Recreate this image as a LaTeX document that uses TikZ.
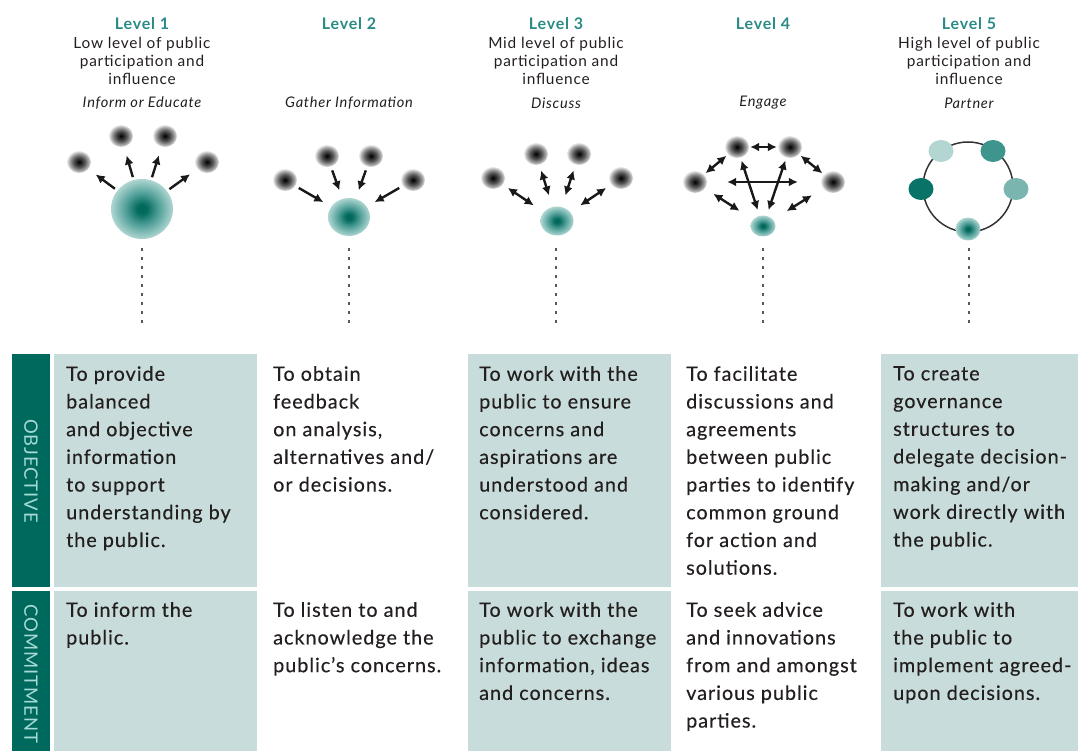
\documentclass[tikz,border=0pt]{standalone}
\usepackage{fontspec}
\setmainfont{Lato}[LetterSpace=5]
\newfontfamily\bodyfont{Lato}[LetterSpace=5, FakeBold=0.35]
\usetikzlibrary{arrows.meta,shapes.geometric}

\definecolor{barteal}{HTML}{00695E}
\definecolor{cellteal}{HTML}{C8DDDB}
\definecolor{headteal}{HTML}{2A8B86}
\definecolor{bartext}{HTML}{A6DAD5}
\definecolor{ink}{HTML}{241F1F}
\definecolor{tealA}{HTML}{00675A}
\definecolor{tealB}{HTML}{2E8B83}
\definecolor{tealC}{HTML}{AFD6D2}
\definecolor{pOne}{HTML}{B3D6D3}
\definecolor{pTwo}{HTML}{3D958E}
\definecolor{pThree}{HTML}{7AB5B0}
\definecolor{pFour}{HTML}{0A7368}

% radial shadings: the node outline sits at about 25bp
\pgfdeclareradialshading{grayblob}{\pgfpointorigin}{color(0bp)=(black); color(3bp)=(black!92); color(12bp)=(black!66); color(20bp)=(black!34); color(25bp)=(black!8); color(50bp)=(white)}
\pgfdeclareradialshading{tealglow}{\pgfpointorigin}{color(0bp)=(tealA); color(4bp)=(tealA!90!tealB); color(13bp)=(tealB!75!tealC); color(25bp)=(tealC); color(50bp)=(tealC)}

\tikzset{
  gblob/.style={ellipse, shading=grayblob, minimum width=24pt, minimum height=22pt, inner sep=0},
  tblob/.style={ellipse, shading=tealglow, inner sep=0},
  pblob/.style={ellipse, fill=#1, minimum width=25pt, minimum height=22pt, inner sep=0},
  arr/.style={line width=2.4pt, draw=black!90, -{Latex[length=9pt,width=9pt]}},
  darr/.style={line width=2.4pt, draw=black!90, {Latex[length=9pt,width=9pt]}-{Latex[length=9pt,width=9pt]}},
  dots/.style={line width=2.6pt, draw=black!65, dash pattern=on 2.6pt off 6.4pt},
  lvl/.style={font=\fontsize{16}{18}\selectfont\bfseries, text=headteal, inner sep=0},
  sub/.style={font=\fontsize{15.4}{18}\selectfont, text=ink, align=center, inner sep=0},
  modetxt/.style={font=\fontsize{14.6}{18}\selectfont\itshape, text=ink, inner sep=0},
  body/.style={font=\bodyfont\fontsize{19.8}{27.7}\selectfont, text=ink, align=left, anchor=north west, inner sep=0},
  bartxt/.style={font=\fontsize{18.5}{20}\selectfont, text=bartext, rotate=-90, inner sep=0}
}

\begin{document}
\begin{tikzpicture}[x=1pt, y=-1pt]
\useasboundingbox (0,0) rectangle (1078,751);

% ---------- level headings ----------
\node[lvl] (h1) at (142,24) {Level 1};
\node[sub] (s1) at (142,61) {Low level of public\\participation and\\influence};
\node[modetxt] (m1) at (142,103) {Inform or Educate};

\node[lvl] (h2) at (349,24) {Level 2};
\node[modetxt] (m2) at (349,103) {Gather Information};

\node[lvl] (h3) at (556,24) {Level 3};
\node[sub] (s3) at (556,61) {Mid level of public\\participation and\\influence};
\node[modetxt] (m3) at (556,103) {Discuss};

\node[lvl] (h4) at (763,24) {Level 4};
\node[modetxt] (m4) at (763,103) {Engage};

\node[lvl] (h5) at (969,24) {Level 5};
\node[sub] (s5) at (969,61) {High level of public\\participation and\\influence};
\node[modetxt] (m5) at (969,103) {Partner};

% ---------- level 1: inform ----------
\node[tblob, minimum width=62pt, minimum height=60pt] (c1) at (142,209) {};
\node[gblob] (a11) at (79,162) {};
\node[gblob] (a12) at (121,136) {};
\node[gblob] (a13) at (165,136) {};
\node[gblob] (a14) at (207,162) {};
\foreach \b in {a11,a12,a13,a14}
  \draw[arr, shorten <=3pt, shorten >=9pt] (c1) -- (\b);

% ---------- level 2: gather ----------
\node[tblob, minimum width=42pt, minimum height=38pt] (c2) at (349,217) {};
\node[gblob] (a21) at (285,180) {};
\node[gblob] (a22) at (327,156) {};
\node[gblob] (a23) at (371,156) {};
\node[gblob] (a24) at (413,180) {};
\foreach \b in {a21,a22,a23,a24}
  \draw[arr, shorten <=4pt, shorten >=9pt] (\b) -- (c2);

% ---------- level 3: discuss ----------
\node[tblob, minimum width=33pt, minimum height=29pt] (c3) at (557,221) {};
\node[gblob] (a31) at (493,178) {};
\node[gblob] (a32) at (536,154) {};
\node[gblob] (a33) at (579,154) {};
\node[gblob] (a34) at (621,178) {};
\foreach \b in {a31,a32,a33,a34}
  \draw[darr, shorten <=6pt, shorten >=12pt] (\b) -- (c3);

% ---------- level 4: engage ----------
\node[tblob, minimum width=25pt, minimum height=21pt] (c4) at (763,226) {};
\node[gblob] (a41) at (695,182) {};
\node[gblob] (a42) at (737,147) {};
\node[gblob] (a43) at (790,147) {};
\node[gblob] (a44) at (833,182) {};
\draw[darr, shorten <=1pt, shorten >=1pt] (a42) -- (a43);
\draw[darr, shorten <=2pt, shorten >=2pt] (a41) -- (a42);
\draw[darr, shorten <=2pt, shorten >=2pt] (a43) -- (a44);
\draw[darr, shorten <=3pt, shorten >=6pt] (a42) -- (c4);
\draw[darr, shorten <=3pt, shorten >=6pt] (a43) -- (c4);
\draw[darr, shorten <=10pt, shorten >=16pt] (a41) -- (c4);
\draw[darr, shorten <=13pt, shorten >=16pt] (a44) -- (c4);
\draw[darr, shorten <=20pt, shorten >=23pt] (a41) -- (a44);

% ---------- level 5: partner ----------
\node[circle, draw=black!80, line width=1.5pt, minimum size=90pt, inner sep=0] (ring) at (968,187) {};
\node[pblob=pOne] (p1) at (941,151) {};
\node[pblob=pTwo] (p2) at (993,151) {};
\node[pblob=pThree] (p3) at (1016,189) {};
\node[pblob=pFour] (p4) at (921,189) {};
\node[tblob, minimum width=25pt, minimum height=23pt] (p5) at (968,229) {};

% ---------- drop lines ----------
\foreach \x/\n in {142/1,349/2,556/3,763/4,969/5}{
  \coordinate (dt\n) at (\x,248);
  \coordinate (db\n) at (\x,325);
  \draw[dots] (dt\n) -- (db\n);
}

% ---------- table ----------
\fill[barteal] (12,354) rectangle (50,587);
\fill[barteal] (12,591) rectangle (50,751);
\foreach \x in {54,468,881}{
  \fill[cellteal] (\x,354) rectangle ++(203,233);
  \fill[cellteal] (\x,591) rectangle ++(203,160);
}
\node[bartxt] (lobj) at (31,471) {OBJECTIVE};
\node[bartxt] (lcom) at (31,674) {COMMITMENT};

% objective row
\node[body] (o1) at (66,366) {To provide\\balanced\\and objective\\information\\to support\\understanding by\\the public.};
\node[body] (o2) at (273,366) {To obtain\\feedback\\on analysis,\\alternatives and/\\or decisions.};
\node[body] (o3) at (479,366) {To work with the\\public to ensure\\concerns and\\aspirations are\\understood and\\considered.};
\node[body] (o4) at (686,366) {To facilitate\\discussions and\\agreements\\between public\\parties to identify\\common ground\\for action and\\solutions.};
\node[body] (o5) at (893,366) {To create\\governance\\structures to\\delegate decision-\\making and/or\\work directly with\\the public.};

% commitment row
\node[body] (k1) at (66,602) {To inform the\\public.};
\node[body] (k2) at (273,602) {To listen to and\\acknowledge the\\public’s concerns.};
\node[body] (k3) at (479,602) {To work with the\\public to exchange\\information, ideas\\and concerns.};
\node[body] (k4) at (686,602) {To seek advice\\and innovations\\from and amongst\\various public\\parties.};
\node[body] (k5) at (893,602) {To work with\\the public to\\implement agreed-\\upon decisions.};
\end{tikzpicture}
\end{document}
